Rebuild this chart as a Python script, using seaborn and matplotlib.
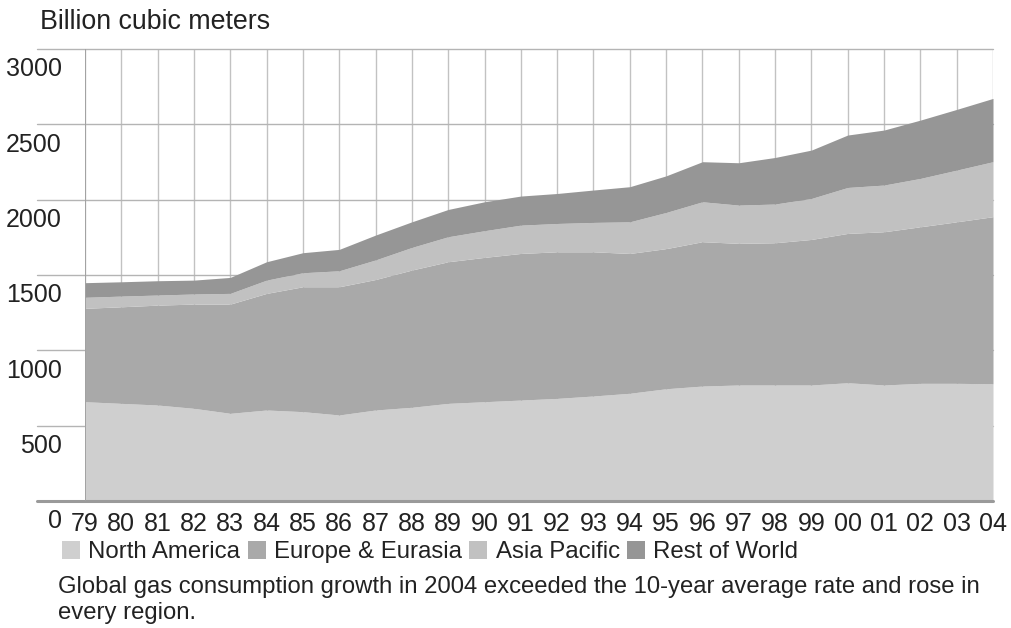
"""
Global gas consumption by region, 1979-2004
Stacked area chart, greyscale
"""

import numpy as np
import pandas as pd
import matplotlib
matplotlib.use("Agg")
import matplotlib.pyplot as plt
import seaborn as sns
from matplotlib import font_manager, transforms
from matplotlib.patches import Patch

# Data (billion cubic meters)
years = list(range(1979, 2005))
year_labels = ["79", "80", "81", "82", "83", "84", "85", "86", "87", "88", "89", "90", "91",
               "92", "93", "94", "95", "96", "97", "98", "99", "00", "01", "02", "03", "04"]
north_america = [659, 648, 637, 615, 582, 604, 593, 571, 604, 622, 648, 659, 670,
                 681, 697, 715, 745, 763, 770, 770, 770, 785, 770, 781, 781, 778]
europe_eurasia = [620, 641, 663, 692, 725, 774, 829, 851, 866, 911, 940, 958, 973,
                  973, 957, 928, 930, 958, 940, 944, 966, 991, 1017, 1039, 1072, 1109]
asia_pacific = [73, 71, 67, 67, 71, 88, 93, 106, 130, 150, 166, 177, 188,
                188, 195, 210, 240, 265, 254, 257, 272, 305, 310, 321, 343, 365]
rest_of_world = [97, 95, 95, 92, 106, 122, 133, 142, 165, 170, 181, 192, 193,
                 199, 215, 233, 243, 266, 281, 309, 321, 348, 365, 387, 403, 420]
regions = ["North America", "Europe & Eurasia", "Asia Pacific", "Rest of World"]
y_ticks = [500, 1000, 1500, 2000, 2500, 3000]

colors = ["#cfcfcf", "#a9a9a9", "#c1c1c1", "#969696"]
grid_color = "#c2c2c2"
text_color = "#222222"

sns.set_theme(style="white")
installed = {f.name for f in font_manager.fontManager.ttflist}
family = "Liberation Sans" if "Liberation Sans" in installed else "DejaVu Sans"
plt.rcParams["font.family"] = [family, "DejaVu Sans"]
FS = 18

df = pd.DataFrame({"year": years, "North America": north_america,
                   "Europe & Eurasia": europe_eurasia, "Asia Pacific": asia_pacific,
                   "Rest of World": rest_of_world})

W, H = 1012, 628
fig = plt.figure(figsize=(W / 100, H / 100), dpi=100)
fig.patch.set_facecolor("white")
ax = fig.add_axes([85 / W, 1 - 501 / H, 908 / W, 452 / H])

# Grid behind the areas
ax.vlines(df["year"], 0, 3000, color=grid_color, lw=1.0, zorder=0)
for v in y_ticks:
    ax.axhline(v, xmin=-0.053, xmax=1, color="#b4b4b4", lw=1.0, clip_on=False, zorder=0)

ax.stackplot(df["year"], *[df[r] for r in regions], colors=colors, linewidth=0, zorder=1)

# Axis lines
ax.axhline(0, xmin=-0.053, xmax=1, color="#9a9a9a", lw=2.2, clip_on=False, zorder=3)
ax.vlines([years[0]], 0, 3000, color="#a0a0a0", lw=1.3, zorder=3)

ax.set_xlim(years[0], years[-1])
ax.set_ylim(0, 3000)
ax.set_xticks(years)
ax.set_xticklabels(year_labels, fontsize=FS, color=text_color)
ax.set_yticks([])
ax.tick_params(axis="x", length=0, pad=8)
sns.despine(ax=ax, left=True, bottom=True, right=True, top=True)
ax.grid(False)
ax.set_facecolor("white")

# y labels sit just below their grid lines
off = transforms.offset_copy(ax.get_yaxis_transform(), fig=fig, x=0, y=-6, units="points")
for v in y_ticks:
    ax.text(-23 / 908, v, str(v), transform=off, ha="right", va="top",
            fontsize=FS, color=text_color, clip_on=False)
fig.text(55 / W, 1 - 521 / H, "0", ha="center", va="center", fontsize=FS, color=text_color)

fig.text(40 / W, 1 - 22 / H, "Billion cubic meters", ha="left", va="center",
         fontsize=19.3, color=text_color)

handles = [Patch(facecolor=c, edgecolor="none", label=r) for c, r in zip(colors, regions)]
fig.legend(handles=handles, loc="center left", bbox_to_anchor=(62 / W, 1 - 552 / H),
           ncol=4, frameon=False, fontsize=17.3, handlelength=0.75, handleheight=0.75,
           handletextpad=0.35, columnspacing=0.3, borderaxespad=0, borderpad=0,
           labelcolor=text_color)

fig.text(58 / W, 1 - 587 / H,
         "Global gas consumption growth in 2004 exceeded the 10-year average rate and rose in",
         ha="left", va="center", fontsize=17.2, color=text_color)
fig.text(58 / W, 1 - 613 / H, "every region.", ha="left", va="center",
         fontsize=17.2, color=text_color)

fig.savefig("out.png", dpi=100, facecolor="white")
